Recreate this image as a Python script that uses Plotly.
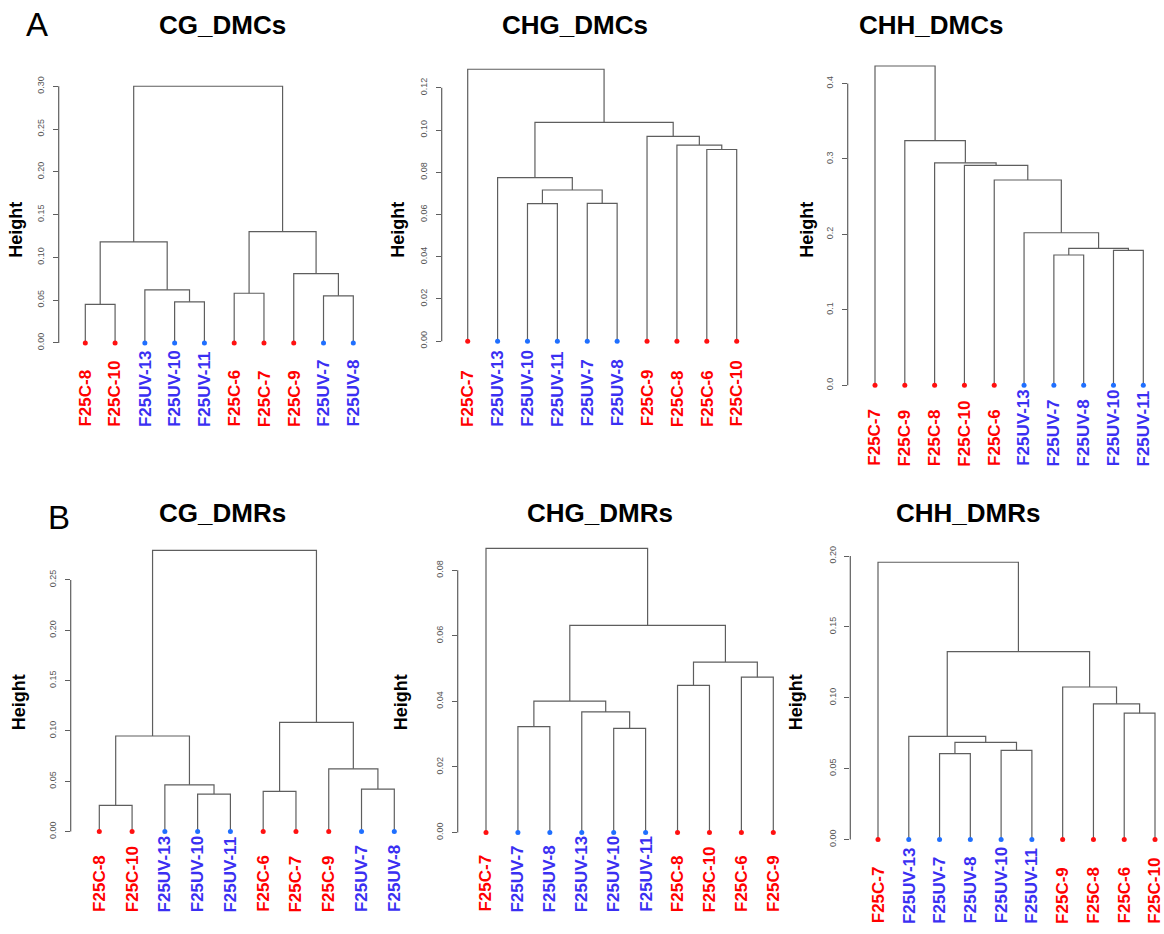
import plotly.graph_objects as go

W, H = 1164, 934

# ---- data: leaf order and merge tables (R hclust style: negative = leaf position, positive = merge row) ----
cg_dmc_leaves = ["F25C-8", "F25C-10", "F25UV-13", "F25UV-10", "F25UV-11",
                 "F25C-6", "F25C-7", "F25C-9", "F25UV-7", "F25UV-8"]
cg_dmc_merge = [(-1, -2), (-4, -5), (-9, -10), (-6, -7), (-3, 2),
                (-8, 3), (1, 5), (4, 6), (7, 8)]
cg_dmc_height = [0.045, 0.048, 0.055, 0.058, 0.062, 0.081, 0.118, 0.130, 0.300]

chg_dmc_leaves = ["F25C-7", "F25UV-13", "F25UV-10", "F25UV-11", "F25UV-7",
                  "F25UV-8", "F25C-9", "F25C-8", "F25C-6", "F25C-10"]
chg_dmc_merge = [(-3, -4), (-5, -6), (1, 2), (-2, 3), (-9, -10),
                 (-8, 5), (-7, 6), (4, 7), (-1, 8)]
chg_dmc_height = [0.0652, 0.0653, 0.0716, 0.0775, 0.0908, 0.0929, 0.0970, 0.1036, 0.1288]

chh_dmc_leaves = ["F25C-7", "F25C-9", "F25C-8", "F25C-10", "F25C-6",
                  "F25UV-13", "F25UV-7", "F25UV-8", "F25UV-10", "F25UV-11"]
chh_dmc_merge = [(-7, -8), (-9, -10), (1, 2), (-6, 3), (-5, 4),
                 (-4, 5), (-3, 6), (-2, 7), (-1, 8)]
chh_dmc_height = [0.1727, 0.1789, 0.1815, 0.2022, 0.2721, 0.2914, 0.2949, 0.3244, 0.4233]

cg_dmr_leaves = ["F25C-8", "F25C-10", "F25UV-13", "F25UV-10", "F25UV-11",
                 "F25C-6", "F25C-7", "F25C-9", "F25UV-7", "F25UV-8"]
cg_dmr_merge = [(-1, -2), (-4, -5), (-6, -7), (-9, -10), (-3, 2),
                (-8, 4), (1, 5), (3, 6), (7, 8)]
cg_dmr_height = [0.026, 0.0372, 0.0399, 0.0422, 0.0464, 0.0623, 0.0949, 0.1084, 0.2793]

chg_dmr_leaves = ["F25C-7", "F25UV-7", "F25UV-8", "F25UV-13", "F25UV-10",
                  "F25UV-11", "F25C-8", "F25C-10", "F25C-6", "F25C-9"]
chg_dmr_merge = [(-5, -6), (-2, -3), (-4, 1), (2, 3), (-7, -8),
                 (-9, -10), (5, 6), (4, 7), (-1, 8)]
chg_dmr_height = [0.0318, 0.0323, 0.0368, 0.0401, 0.0449, 0.0474, 0.0520, 0.0632, 0.0867]

chh_dmr_leaves = ["F25C-7", "F25UV-13", "F25UV-7", "F25UV-8", "F25UV-10",
                  "F25UV-11", "F25C-9", "F25C-8", "F25C-6", "F25C-10"]
chh_dmr_merge = [(-3, -4), (-5, -6), (1, 2), (-2, 3), (-9, -10),
                 (-8, 5), (-7, 6), (4, 7), (-1, 8)]
chh_dmr_height = [0.0606, 0.0629, 0.0685, 0.0727, 0.0891, 0.0957, 0.1076, 0.1326, 0.1956]

cg_dmc_ticks = [0.00, 0.05, 0.10, 0.15, 0.20, 0.25, 0.30]
chg_dmc_ticks = [0.00, 0.02, 0.04, 0.06, 0.08, 0.10, 0.12]
chh_dmc_ticks = [0.0, 0.1, 0.2, 0.3, 0.4]
cg_dmr_ticks = [0.00, 0.05, 0.10, 0.15, 0.20, 0.25]
chg_dmr_ticks = [0.00, 0.02, 0.04, 0.06, 0.08]
chh_dmr_ticks = [0.00, 0.05, 0.10, 0.15, 0.20]

# ---- panel placement (pixels) ----
panels = [
    dict(title="CG_DMCs", leaves=cg_dmc_leaves, merge=cg_dmc_merge, height=cg_dmc_height,
         ticks=cg_dmc_ticks, fmt="{:.2f}", ax=58.7, y0=340.7, k=860.0, p1=85.3, p10=353.3,
         tx=222, ty=21, hx=16, hy=227, lab_bottom=427),
    dict(title="CHG_DMCs", leaves=chg_dmc_leaves, merge=chg_dmc_merge, height=chg_dmc_height,
         ticks=chg_dmc_ticks, fmt="{:.2f}", ax=441.7, y0=339.0, k=2122.5, p1=467.7, p10=736.7,
         tx=575, ty=21, hx=398, hy=227, lab_bottom=427),
    dict(title="CHH_DMCs", leaves=chh_dmc_leaves, merge=chh_dmc_merge, height=chh_dmc_height,
         ticks=chh_dmc_ticks, fmt="{:.1f}", ax=847.7, y0=383.3, k=758.3, p1=875.0, p10=1143.3,
         tx=931, ty=21, hx=807, hy=227, lab_bottom=466.7),
    dict(title="CG_DMRs", leaves=cg_dmr_leaves, merge=cg_dmr_merge, height=cg_dmr_height,
         ticks=cg_dmr_ticks, fmt="{:.2f}", ax=70.7, y0=832.0, k=1012.0, p1=99.3, p10=394.3,
         tx=222, ty=512, hx=19, hy=702, lab_bottom=915),
    dict(title="CHG_DMRs", leaves=chg_dmr_leaves, merge=chg_dmr_merge, height=chg_dmr_height,
         ticks=chg_dmr_ticks, fmt="{:.2f}", ax=457.7, y0=833.0, k=3296.0, p1=486.0, p10=773.3,
         tx=600, ty=512, hx=401, hy=702, lab_bottom=915),
    dict(title="CHH_DMRs", leaves=chh_dmr_leaves, merge=chh_dmr_merge, height=chh_dmr_height,
         ticks=chh_dmr_ticks, fmt="{:.2f}", ax=850.3, y0=840.0, k=1425.0, p1=878.0, p10=1155.0,
         tx=968, ty=512, hx=796, hy=702, lab_bottom=926.7),
]

LINE = "#5e5e5e"
RED_TXT, BLUE_TXT = "#ff0000", "#3a2ff2"
RED_DOT, BLUE_DOT = "#ff1010", "#1f6fff"
FONT = "Liberation Sans, Arial"


def px_x(p):
    return min(max(p / W, 0.0), 1.0)


def px_y(p):
    return min(max(1 - p / H, 0.0), 1.0)


def dendro_segments(merge, heights):
    """Return x/y polyline arrays (None-separated) for an hclust merge table."""
    pos = {}
    xs, ys = [], []

    def node(ref):
        if ref < 0:
            return float(-ref), 0.0
        return pos[ref]

    for i, ((a, b), h) in enumerate(zip(merge, heights), start=1):
        xa, ha = node(a)
        xb, hb = node(b)
        xs += [xa, xa, xb, xb, None]
        ys += [ha, h, h, hb, None]
        pos[i] = ((xa + xb) / 2, h)
    return xs, ys


fig = go.Figure()
annotations = []
shapes = []
layout_axes = {}

for i, p in enumerate(panels, start=1):
    xa_name = "x" if i == 1 else f"x{i}"
    ya_name = "y" if i == 1 else f"y{i}"
    s = (p["p10"] - p["p1"]) / 9.0
    d0 = p["ax"]
    d1 = min(p["p10"] + 0.7 * s, W - 0.5)
    x_lo = 1 - (p["p1"] - d0) / s
    x_hi = 10 + (d1 - p["p10"]) / s

    top_val = max(p["height"] + p["ticks"])
    pad = 6.0
    y_bot_px = p["y0"] + pad
    y_top_px = p["y0"] - top_val * p["k"] - pad
    y_lo = -pad / p["k"]
    y_hi = top_val + pad / p["k"]

    xs, ys = dendro_segments(p["merge"], p["height"])
    fig.add_trace(go.Scatter(x=xs, y=ys, mode="lines", xaxis=xa_name, yaxis=ya_name,
                             line=dict(color=LINE, width=1.2), hoverinfo="skip",
                             showlegend=False))

    leaf_x = list(range(1, 11))
    dot_colors = [BLUE_DOT if "UV" in lab else RED_DOT for lab in p["leaves"]]
    fig.add_trace(go.Scatter(x=leaf_x, y=[0] * 10, mode="markers", xaxis=xa_name, yaxis=ya_name,
                             marker=dict(size=5, color=dot_colors), cliponaxis=False,
                             hoverinfo="skip", showlegend=False))

    for xi, lab in zip(leaf_x, p["leaves"]):
        annotations.append(dict(
            x=xi, xref=xa_name, y=px_y(p["lab_bottom"]), yref="paper",
            text=f"<b>{lab}</b>", showarrow=False, textangle=-90,
            xanchor="center", yanchor="bottom",
            font=dict(family=FONT, size=17,
                      color=BLUE_TXT if "UV" in lab else RED_TXT)))

    annotations.append(dict(x=px_x(p["tx"]), y=px_y(p["ty"]), xref="paper", yref="paper",
                            text=f"<b>{p['title']}</b>", showarrow=False,
                            xanchor="center", yanchor="middle",
                            font=dict(family=FONT, size=26, color="black")))
    annotations.append(dict(x=px_x(p["hx"]), y=px_y(p["hy"]), xref="paper", yref="paper",
                            text="<b>Height</b>", showarrow=False, textangle=-90,
                            xanchor="center", yanchor="middle",
                            font=dict(family=FONT, size=18, color="black")))

    # R-style axis line spanning the tick range only
    shapes.append(dict(type="line", xref=f"{xa_name} domain", yref=ya_name,
                       x0=0, x1=0, y0=p["ticks"][0], y1=p["ticks"][-1],
                       line=dict(color=LINE, width=1.2)))

    key_x = "xaxis" if i == 1 else f"xaxis{i}"
    key_y = "yaxis" if i == 1 else f"yaxis{i}"
    layout_axes[key_x] = dict(domain=[px_x(d0), px_x(d1)], range=[x_lo, x_hi],
                              visible=False, fixedrange=True, anchor=ya_name)
    layout_axes[key_y] = dict(domain=[px_y(y_bot_px), px_y(y_top_px)], range=[y_lo, y_hi],
                              anchor=xa_name, showgrid=False, zeroline=False, showline=False,
                              tickmode="array", tickvals=p["ticks"],
                              ticktext=[p["fmt"].format(t) for t in p["ticks"]],
                              ticks="outside", ticklen=5, tickwidth=1.2, tickcolor=LINE,
                              tickangle=-90, ticklabelstandoff=5,
                              tickfont=dict(family=FONT, size=9, color="#555555"),
                              fixedrange=True)

# panel letters
annotations.append(dict(x=px_x(37), y=px_y(21), xref="paper", yref="paper", text="A",
                        showarrow=False, xanchor="center", yanchor="middle",
                        font=dict(family=FONT, size=33, color="black")))
annotations.append(dict(x=px_x(59), y=px_y(516), xref="paper", yref="paper", text="B",
                        showarrow=False, xanchor="center", yanchor="middle",
                        font=dict(family=FONT, size=33, color="black")))

fig.update_layout(width=W, height=H, margin=dict(l=0, r=0, t=0, b=0),
                  paper_bgcolor="white", plot_bgcolor="white",
                  annotations=annotations, shapes=shapes, **layout_axes)

fig.write_html("out.html", config={"displayModeBar": False})
